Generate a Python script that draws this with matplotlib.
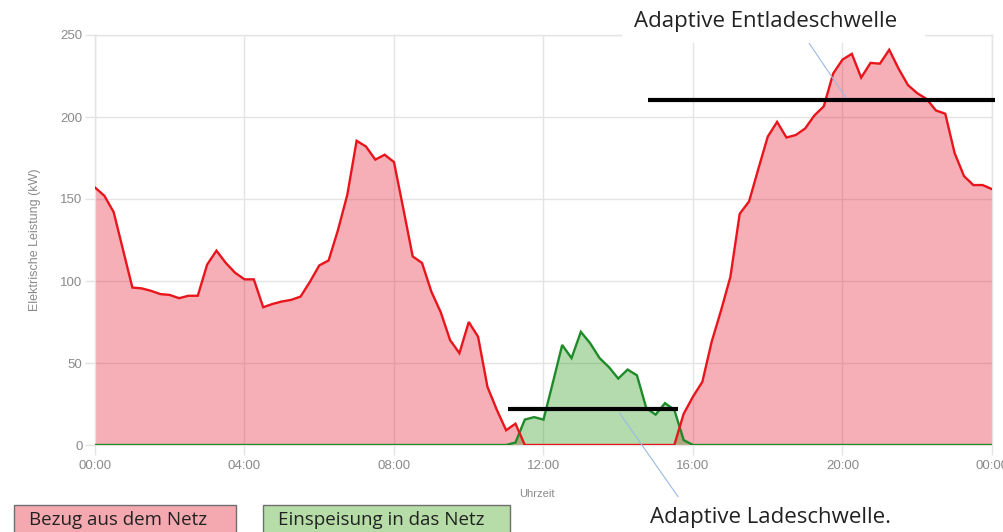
import matplotlib
matplotlib.use("Agg")
import matplotlib.pyplot as plt
from matplotlib.patches import Rectangle
from matplotlib.lines import Line2D
import numpy as np

# 15-minute samples over one day (hours 0..24)
hours = np.arange(97) * 0.25

grid_import = [
    157, 152, 142, 119, 96, 95.5, 94, 92, 91.5, 89.5, 91, 91,
    110, 118.5, 111, 105, 101, 101, 84, 86, 87.5, 88.5, 90.5, 99.5,
    109.5, 112.5, 131, 152.5, 185.5, 182, 174, 177, 172.5, 144, 115, 111,
    93.5, 81, 64, 56, 75, 66, 35.5, 21.5, 9, 13, 0, 0,
    0, 0, 0, 0, 0, 0, 0, 0, 0, 0, 0, 0,
    0, 0, 0, 19, 29.5, 38.5, 63, 82, 102.5, 141, 148.5, 168.5,
    188, 197, 187.5, 189, 193, 201, 206.5, 226.5, 235, 238.5, 224, 233,
    232.5, 241, 229.5, 219.5, 214.5, 211, 204, 202, 178, 164, 158.5, 158.5,
    156,
]

grid_export = [
    0, 0, 0, 0, 0, 0, 0, 0, 0, 0, 0, 0,
    0, 0, 0, 0, 0, 0, 0, 0, 0, 0, 0, 0,
    0, 0, 0, 0, 0, 0, 0, 0, 0, 0, 0, 0,
    0, 0, 0, 0, 0, 0, 0, 0, 0, 1.5, 15.5, 17,
    15.5, 38, 61, 53, 69, 62, 53, 47.5, 40.5, 46, 42.5, 22.5,
    18.5, 25.5, 21.5, 3, 0, 0, 0, 0, 0, 0, 0, 0,
    0, 0, 0, 0, 0, 0, 0, 0, 0, 0, 0, 0,
    0, 0, 0, 0, 0, 0, 0, 0, 0, 0, 0, 0,
    0,
]

# adaptive thresholds: (level kW, start h, end h)
charge_threshold = (21.8, 11.04, 15.6)
discharge_threshold = (210.5, 14.8, 24.07)

x_ticks = [0, 4, 8, 12, 16, 20, 24]
x_tick_labels = ["00:00", "04:00", "08:00", "12:00", "16:00", "20:00", "00:00"]
y_ticks = [0, 50, 100, 150, 200, 250]

W, H = 1004, 532
fig = plt.figure(figsize=(W / 100, H / 100), dpi=100)
ax = fig.add_axes([95 / W, 1 - 445 / H, (992 - 95) / W, (445 - 35) / H])

grid_col = "#e4e4e4"
tick_col = "#8a8a8a"

ax.fill_between(hours, grid_import, 0, color=(0.90, 0.10, 0.18), alpha=0.35, lw=0, zorder=2)
ax.fill_between(hours, grid_export, 0, color=(0.16, 0.60, 0.08), alpha=0.35, lw=0, zorder=2)
ax.plot(hours, grid_export, color="#1f8a2a", lw=1.7, zorder=3, solid_joinstyle="miter")
ax.plot(hours, grid_import, color="#e8151c", lw=1.7, zorder=4, solid_joinstyle="miter")

for lvl, x0, x1 in (charge_threshold, discharge_threshold):
    ax.plot([x0, x1], [lvl, lvl], color="black", lw=3, zorder=6,
            solid_capstyle="butt", clip_on=False)

ax.set_xlim(0, 24)
ax.set_ylim(0, 250)
ax.set_xticks(x_ticks)
ax.set_xticklabels(x_tick_labels)
ax.set_yticks(y_ticks)
ax.grid(True, color=grid_col, lw=1, zorder=0)
ax.set_axisbelow(True)
for s in ax.spines.values():
    s.set_color(grid_col)
    s.set_linewidth(1)
ax.tick_params(axis="both", colors=grid_col, length=7, width=1,
               labelcolor=tick_col, labelsize=9.5, pad=2)
for lab in ax.get_xticklabels() + ax.get_yticklabels():
    lab.set_family("Liberation Sans")
ax.tick_params(axis="x", pad=4)

ax.set_ylabel("Elektrische Leistung (kW)", color=tick_col, fontsize=9,
              family="Liberation Sans", labelpad=14)

def px(x, y):
    return x / W, 1 - y / H

fig.text(*px(537, 494), "Uhrzeit", color=tick_col, fontsize=8,
         family="Liberation Sans", ha="center", va="center")

# annotation leader lines
ax.add_line(Line2D([19.0, 20.13], [248.6, discharge_threshold[0]],
                   color="#9bb9e2", lw=0.8, zorder=5, clip_on=False))
ax.add_line(Line2D([14.04, 15.6], [19.3, -31.5],
                   color="#9bb9e2", lw=0.8, zorder=5, clip_on=False))

# white panel behind the top annotation
fig.add_artist(Rectangle(px(622, 43), 303 / W, 43 / H, transform=fig.transFigure,
                         facecolor="white", edgecolor="none", zorder=8))
fig.text(*px(766, 21), "Adaptive Entladeschwelle", fontsize=16, family="Open Sans",
         color="#222222", ha="center", va="center", zorder=9)
fig.text(*px(771, 517), "Adaptive Ladeschwelle.", fontsize=16, family="Open Sans",
         color="#222222", ha="center", va="center", zorder=9)

# legend boxes
legend_items = [
    ("Bezug aus dem Netz", 14, 236, "#f4a8b0"),
    ("Einspeisung in das Netz", 263, 510, "#b6dca7"),
]
for label, x0, x1, fc in legend_items:
    fig.add_artist(Rectangle(px(x0, 540), (x1 - x0) / W, 35 / H, transform=fig.transFigure,
                             facecolor=fc, edgecolor="#6f6f6f", lw=1, zorder=8))
    fig.text(*px(x0 + 15, 520), label, fontsize=13.5, family="Open Sans",
             color="#222222", ha="left", va="center", zorder=9)

fig.savefig("out.png", dpi=100, facecolor="white")
